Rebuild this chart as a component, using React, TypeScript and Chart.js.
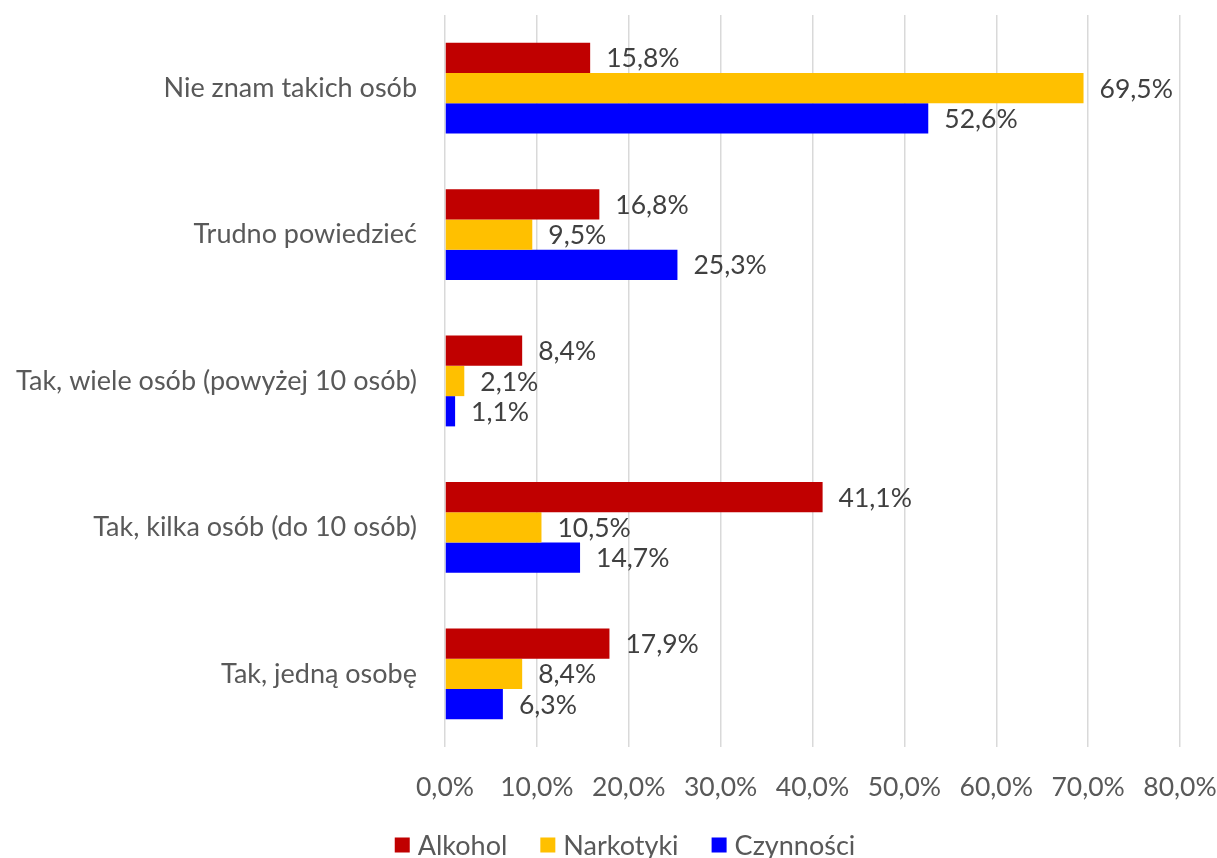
import React, { useEffect, useRef } from "react";
import { Chart, registerables } from "chart.js";

Chart.register(...registerables);

const categories = [
  "Nie znam takich osób",
  "Trudno powiedzieć",
  "Tak, wiele osób (powyżej 10 osób)",
  "Tak, kilka osób (do 10 osób)",
  "Tak, jedną osobę",
];
const seriesNames = ["Alkohol", "Narkotyki", "Czynności"];
const alkohol = [15.8, 16.8, 8.4, 41.1, 17.9];
const narkotyki = [69.5, 9.5, 2.1, 10.5, 8.4];
const czynnosci = [52.6, 25.3, 1.1, 14.7, 6.3];
const xTickValues = [0, 10, 20, 30, 40, 50, 60, 70, 80];
const colors = ["#C00000", "#FFC000", "#0000FF"];

const FONT = "Lato, 'Open Sans', sans-serif";
const fmt = (v: number) => v.toFixed(1).replace(".", ",") + "%";

const dataLabelPlugin = {
  id: "dataLabels",
  afterDatasetsDraw(chart: any) {
    const ctx = chart.ctx;
    ctx.save();
    ctx.font = `26.5px ${FONT}`;
    ctx.fillStyle = "#404040";
    ctx.textAlign = "left";
    ctx.textBaseline = "middle";
    chart.data.datasets.forEach((ds: any, i: number) => {
      const meta = chart.getDatasetMeta(i);
      meta.data.forEach((el: any, j: number) => {
        ctx.fillText(fmt(ds.data[j]), el.x + 16, el.y + 1);
      });
    });
    ctx.restore();
  },
};

const legendPlugin = {
  id: "customLegend",
  afterDraw(chart: any) {
    const ctx = chart.ctx;
    ctx.save();
    ctx.font = `27px ${FONT}`;
    ctx.textBaseline = "middle";
    ctx.textAlign = "left";
    const box = 15;
    const gapBoxText = 8;
    const gapItems = 33;
    const items = chart.data.datasets.map((ds: any) => ({
      label: ds.label,
      color: ds.backgroundColor,
      w: ctx.measureText(ds.label).width,
    }));
    const total = items.reduce((s: number, it: any) => s + box + gapBoxText + it.w, 0) + gapItems * (items.length - 1);
    let x = 625 - total / 2;
    const cy = 845;
    items.forEach((it: any) => {
      ctx.fillStyle = it.color;
      ctx.fillRect(x, cy - box / 2, box, box);
      x += box + gapBoxText;
      ctx.fillStyle = "#595959";
      ctx.fillText(it.label, x, cy + 1);
      x += it.w + gapItems;
    });
    ctx.restore();
  },
};

export default function App() {
  const ref = useRef<HTMLCanvasElement>(null);
  useEffect(() => {
    document.body.style.margin = "0";
    if (!ref.current) return;
    const chart = new Chart(ref.current, {
      type: "bar",
      data: {
        labels: categories,
        datasets: [alkohol, narkotyki, czynnosci].map((d, i) => ({
          label: seriesNames[i],
          data: d,
          backgroundColor: colors[i],
          borderWidth: 0,
          categoryPercentage: 0.62,
          barPercentage: 1,
        })),
      },
      options: {
        indexAxis: "y",
        animation: false,
        responsive: false,
        maintainAspectRatio: false,
        layout: { padding: { top: 15, right: 37, bottom: 0, left: 0 } },
        plugins: {
          legend: { display: false },
          tooltip: { enabled: false },
        },
        scales: {
          x: {
            min: 0,
            max: 80,
            afterBuildTicks: (scale: any) => {
              scale.ticks = xTickValues.map((v) => ({ value: v }));
            },
            afterFit: (scale: any) => {
              scale.height = 111;
              scale.paddingLeft = 0;
              scale.paddingRight = 0;
            },
            grid: { color: "#D9D9D9", lineWidth: 1.5, drawTicks: false },
            border: { display: false },
            ticks: {
              padding: 25,
              color: "#595959",
              font: { family: FONT, size: 26.5 },
              maxRotation: 0,
              autoSkip: false,
              callback: (v: any) => fmt(Number(v)),
            },
          },
          y: {
            afterFit: (scale: any) => {
              scale.width = 445;
              scale.paddingTop = 0;
              scale.paddingBottom = 0;
            },
            grid: { display: false, drawTicks: false },
            border: { display: false },
            ticks: {
              padding: 28,
              color: "#595959",
              font: { family: FONT, size: 27 },
            },
          },
        },
      },
      plugins: [dataLabelPlugin, legendPlugin],
    } as any);
    return () => chart.destroy();
  }, []);
  return (
    <div style={{ width: 1217, height: 858, background: "#fff" }}>
      <canvas ref={ref} width={1217} height={858} style={{ display: "block" }} />
    </div>
  );
}
